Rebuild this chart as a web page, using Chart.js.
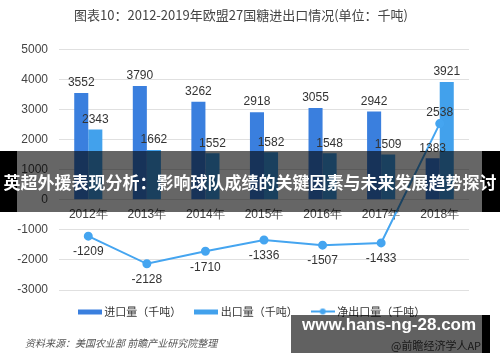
<!DOCTYPE html>
<html>
<head>
<meta charset="utf-8">
<script src="https://cdn.jsdelivr.net/npm/chart.js@4.4.0/dist/chart.umd.min.js"></script>
<style>
  body { margin: 0; background: #fff; }
  #wrap { position: relative; width: 500px; height: 362px; overflow: hidden; }
  #source {
    position: absolute; left: 25px; top: 335px;
    font: italic 10px "Noto Sans CJK SC", sans-serif; color: #555;
  }
  #app {
    position: absolute; left: 391px; top: 337px;
    font: 11px "Noto Sans CJK SC", sans-serif; color: #444;
  }
  #banner {
    position: absolute; left: 0; top: 151px; width: 500px; height: 61px;
    background: linear-gradient(to right, #000 0, #000 17px, rgba(0,0,0,0.6) 17px, rgba(0,0,0,0.6) 482px, #000 482px);
    color: #fff; font: bold 17px "Noto Sans CJK SC", sans-serif;
    line-height: 61px; text-align: center; white-space: nowrap;
  }
  #site {
    position: absolute; left: 291px; top: 315px; width: 199px; height: 38px;
    background: linear-gradient(to right, rgba(0,0,0,0.62) 0, rgba(0,0,0,0.62) 191px, #000 191px);
  }
  #site span {
    position: absolute; left: 11px; top: 0; line-height: 38px; white-space: nowrap;
    color: #fff; font: bold 17px "Liberation Sans", sans-serif;
  }
</style>
</head>
<body>
<div id="wrap">
  <canvas id="chart" width="500" height="362"></canvas>
  <div id="source">资料来源：美国农业部 前瞻产业研究院整理</div>
  <div id="app">@前瞻经济学人APP</div>
  <div id="banner">英超外援表现分析：影响球队成绩的关键因素与未来发展趋势探讨</div>
  <div id="site"><span>www.hans-ng-28.com</span></div>
</div>
<script>
  // 数据
  var years = ['2012年', '2013年', '2014年', '2015年', '2016年', '2017年', '2018年'];
  var imports = [3552, 3790, 3262, 2918, 3055, 2942, 1383];
  var exports = [2343, 1662, 1552, 1582, 1548, 1509, 3921];
  var netExports = [-1209, -2128, -1710, -1336, -1507, -1433, 2538];
  var yTicks = [-3000, -2000, -1000, 0, 1000, 2000, 3000, 4000, 5000];

  var numFont = '"Liberation Sans Narrow", "Liberation Sans", sans-serif';
  var cjkFont = '"Noto Sans CJK SC", sans-serif';

  // legend swatches
  function swatch(color, isLine) {
    var c = document.createElement('canvas');
    c.width = 24; c.height = 8;
    var g = c.getContext('2d');
    g.fillStyle = color;
    if (isLine) {
      g.fillRect(0, 3, 24, 2);
      g.beginPath(); g.arc(12, 4, 3, 0, Math.PI * 2); g.fill();
    } else {
      g.fillRect(0, 2, 24, 5);
    }
    return c;
  }
  var legendSwatches = [swatch('#45a5f0', true), swatch('#3a7fde'), swatch('#42a1ec')];

  // value labels on bars and points
  var valueLabels = {
    id: 'valueLabels',
    afterLayout: function(chart) {
      // legend sits a little right of centre in the original
      chart.legend.left += 12;
      chart.legend.right += 12;
    },
    afterDatasetsDraw: function(chart) {
      var ctx = chart.ctx;
      ctx.save();
      ctx.font = '12px ' + numFont;
      ctx.fillStyle = '#333';
      ctx.textAlign = 'center';
      chart.data.datasets.forEach(function(ds, i) {
        var meta = chart.getDatasetMeta(i);
        meta.data.forEach(function(el, j) {
          var v = ds.data[j];
          if (ds.type === 'line') {
            if (v < 0) {
              ctx.textBaseline = 'top';
              ctx.fillText(v, el.x, el.y + 10);
            } else {
              ctx.textBaseline = 'bottom';
              ctx.fillText(v, el.x, el.y - 5);
            }
          } else {
            ctx.textBaseline = 'bottom';
            ctx.fillText(v, el.x, el.y - 4);
          }
        });
      });
      ctx.restore();
    }
  };

  var ctx = document.getElementById('chart').getContext('2d');
  new Chart(ctx, {
    type: 'bar',
    data: {
      labels: years,
      datasets: [
        {
          type: 'line', label: '净出口量（千吨）', data: netExports,
          borderColor: '#45a5f0', backgroundColor: '#45a5f0',
          borderWidth: 2, pointRadius: 3.5, order: 0
        },
        {
          label: '进口量（千吨）', data: imports, backgroundColor: '#3a7fde',
          categoryPercentage: 0.48, barPercentage: 1, order: 1
        },
        {
          label: '出口量（千吨）', data: exports, backgroundColor: '#42a1ec',
          categoryPercentage: 0.48, barPercentage: 1, order: 1
        }
      ]
    },
    options: {
      responsive: false,
      animation: false,
      layout: { padding: { left: 13, right: 31, bottom: 35 } },
      plugins: {
        title: {
          display: true,
          text: '图表10：2012-2019年欧盟27国糖进出口情况(单位：千吨)',
          color: '#444',
          font: { family: cjkFont, size: 13, weight: 'normal' },
          padding: { top: 7, bottom: 27 }
        },
        legend: {
          position: 'bottom',
          labels: {
            usePointStyle: true, pointStyleWidth: 18, boxHeight: 8,
            padding: 16, color: '#333',
            font: { family: cjkFont, size: 11 },
            generateLabels: function(chart) {
              var items = Chart.defaults.plugins.legend.labels.generateLabels(chart);
              items.forEach(function(it) { it.pointStyle = legendSwatches[it.datasetIndex]; });
              return items;
            },
            // bar items first like the reference
            sort: function(a, b) { return (a.datasetIndex + 2) % 3 - (b.datasetIndex + 2) % 3; }
          }
        },
        tooltip: { enabled: false }
      },
      scales: {
        x: {
          position: { y: 0 },
          grid: { display: false, drawTicks: false },
          border: { display: false },
          ticks: { color: '#444', padding: 8, font: { family: numFont, size: 12 } }
        },
        y: {
          min: -3000, max: 5000,
          afterBuildTicks: function(axis) {
            axis.ticks = yTicks.map(function(v) { return { value: v }; });
          },
          afterFit: function(axis) { axis.width = 46; },
          grid: { color: '#e0e0e0', drawTicks: false },
          border: { display: false },
          ticks: {
            color: '#444', padding: 11, font: { family: numFont, size: 12 },
            callback: function(v) { return String(v); }
          }
        }
      }
    },
    plugins: [valueLabels]
  });
</script>
</body>
</html>
